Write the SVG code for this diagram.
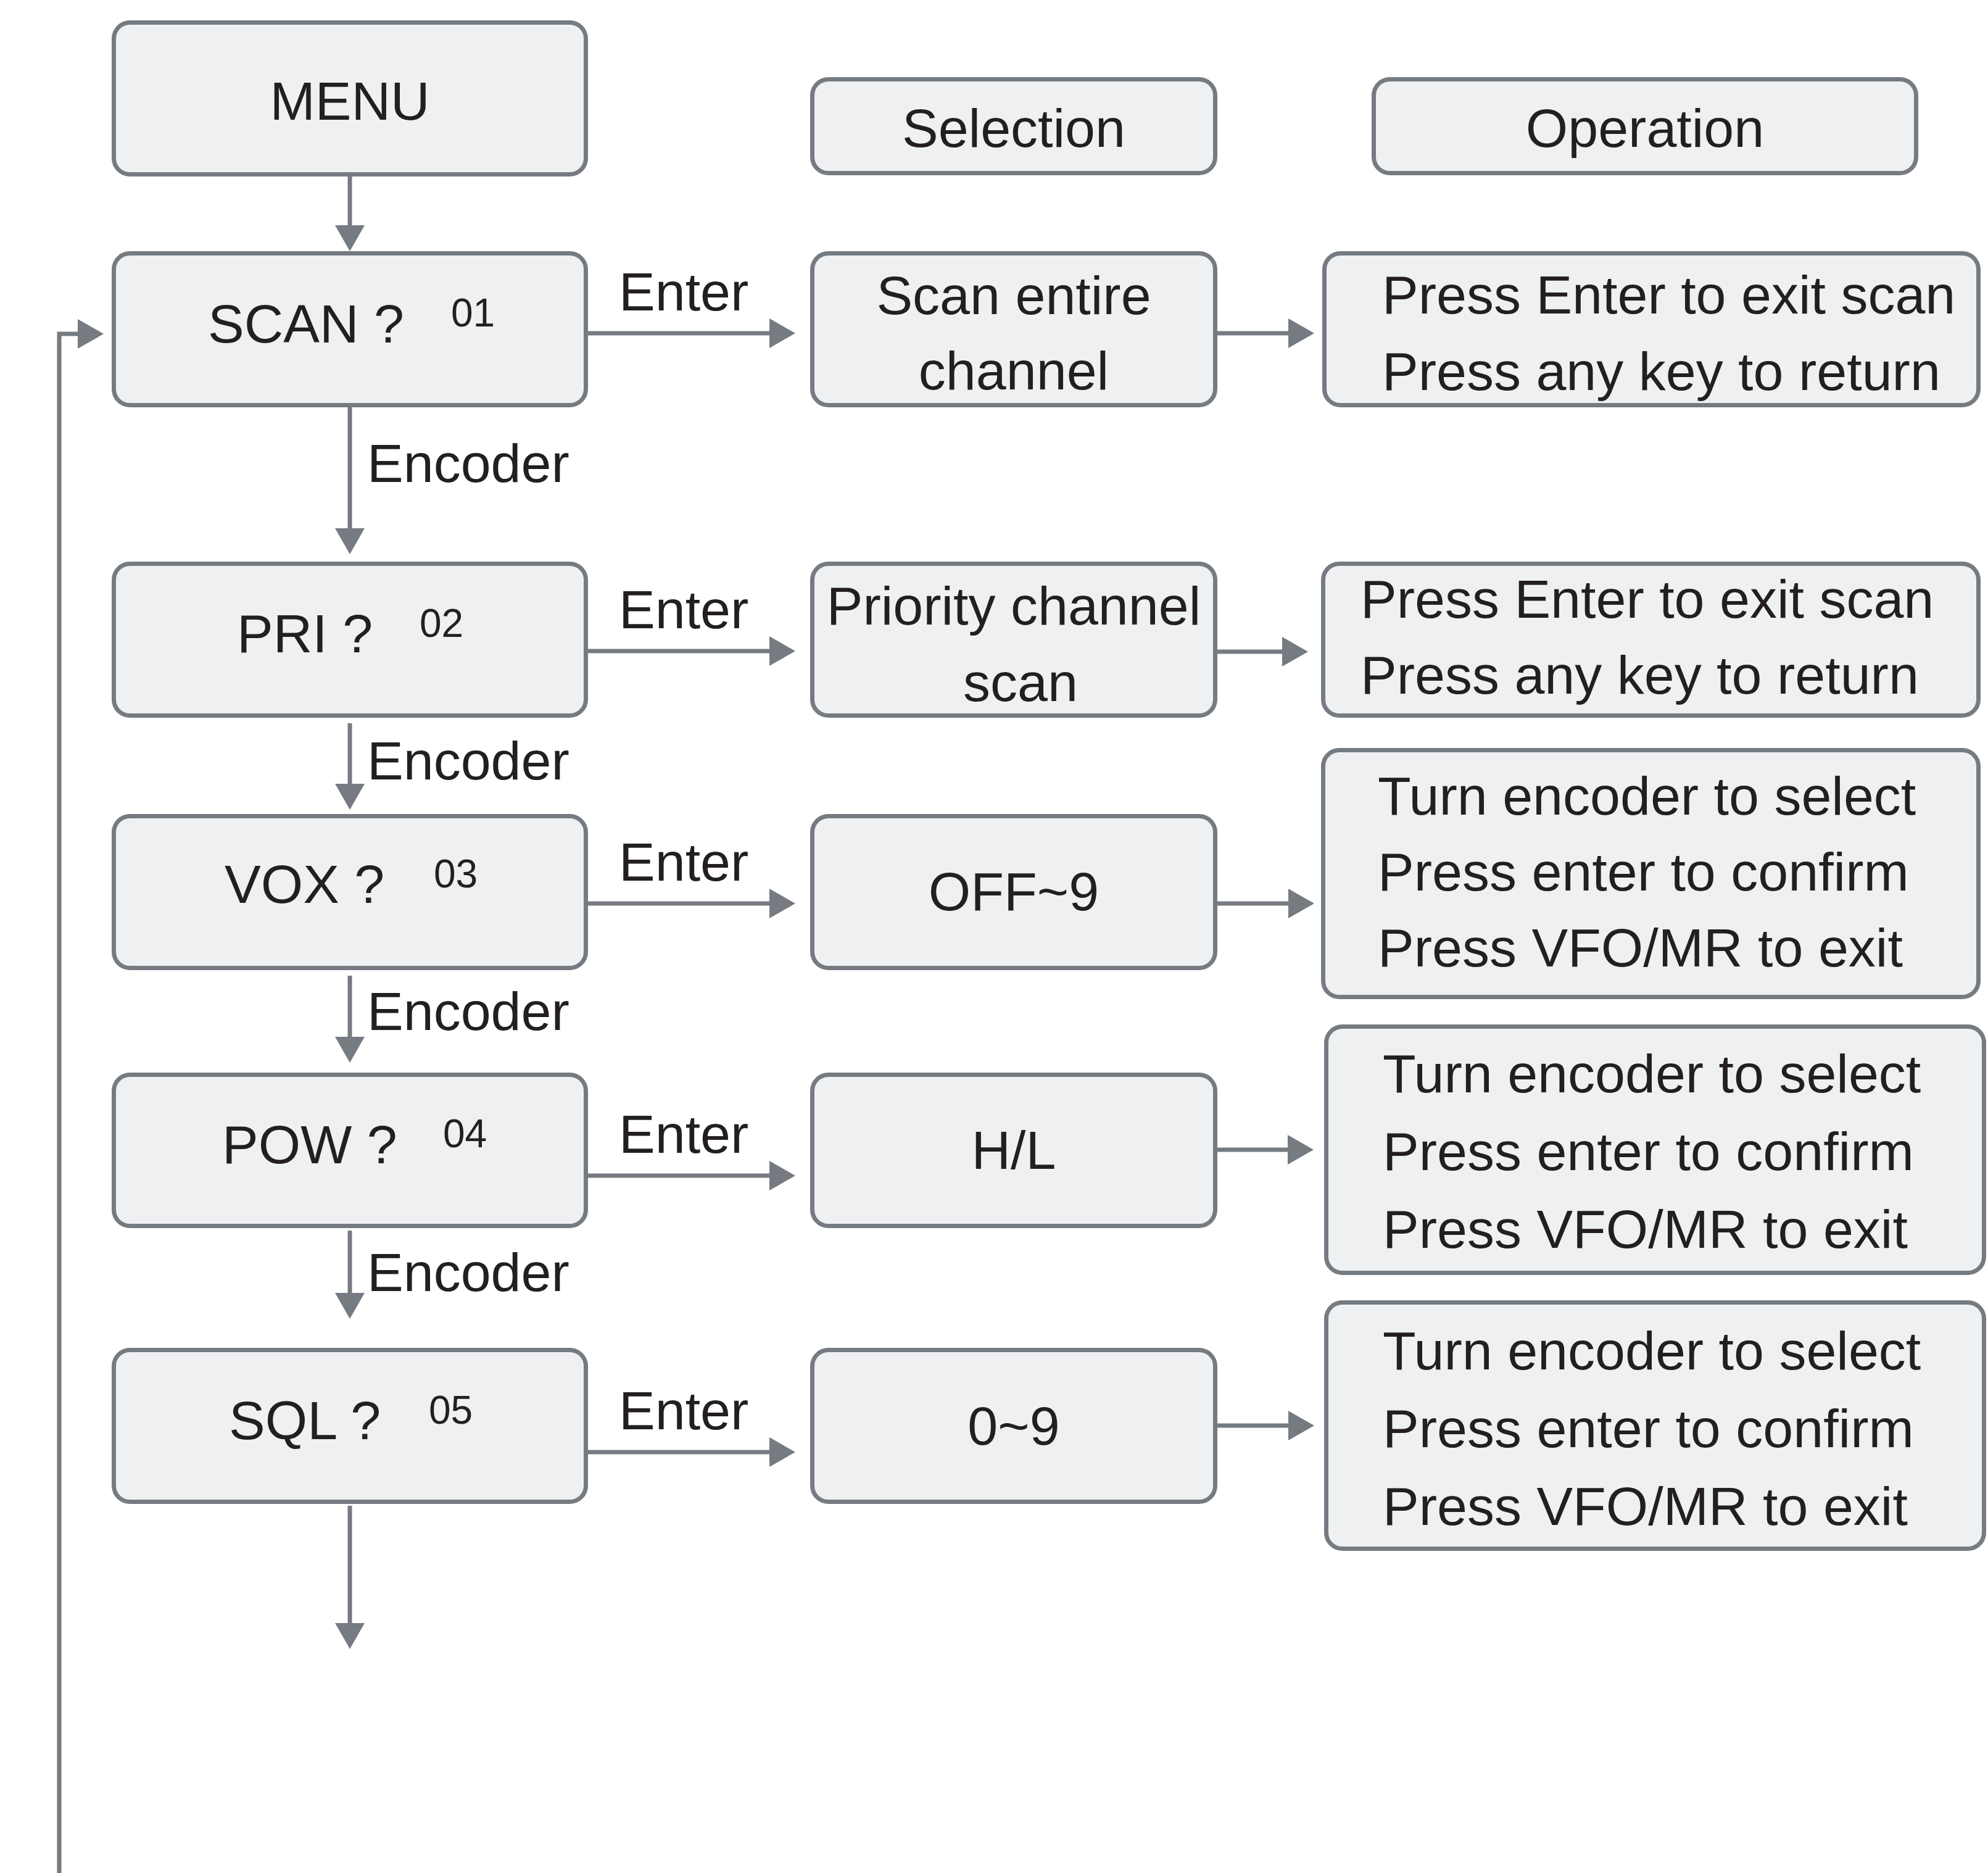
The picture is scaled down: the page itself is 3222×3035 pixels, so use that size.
<svg xmlns="http://www.w3.org/2000/svg" width="3222" height="3035" viewBox="0 0 3222 3035">
<defs>
<style>
.box{fill:#eff0f2;stroke:#757b81;stroke-width:7}
.t{font-family:"Liberation Sans",Arial,sans-serif;font-size:88px;fill:#231f20}
.c{text-anchor:middle}
.n{font-family:"Liberation Sans",Arial,sans-serif;font-size:64px;fill:#231f20}
.ln{fill:none;stroke:#757b81;stroke-width:7}
</style>
<marker id="ah" markerUnits="userSpaceOnUse" markerWidth="44" markerHeight="48" refX="2" refY="24" orient="auto">
<path d="M0,0 L42,24 L0,48 Z" fill="#757b81"/>
</marker>
</defs>
<rect width="3222" height="3035" fill="#ffffff"/>

<g id="connectors">
<line class="ln" x1="567" y1="286" x2="567" y2="367" marker-end="url(#ah)"/>
<line class="ln" x1="567" y1="660" x2="567" y2="858" marker-end="url(#ah)"/>
<line class="ln" x1="567" y1="1172" x2="567" y2="1272" marker-end="url(#ah)"/>
<line class="ln" x1="567" y1="1581" x2="567" y2="1682" marker-end="url(#ah)"/>
<line class="ln" x1="567" y1="1994" x2="567" y2="2097" marker-end="url(#ah)"/>
<line class="ln" x1="567" y1="2440" x2="567" y2="2632" marker-end="url(#ah)"/>

<line class="ln" x1="953" y1="540" x2="1249" y2="540" marker-end="url(#ah)"/>
<line class="ln" x1="953" y1="1055" x2="1249" y2="1055" marker-end="url(#ah)"/>
<line class="ln" x1="953" y1="1464" x2="1249" y2="1464" marker-end="url(#ah)"/>
<line class="ln" x1="953" y1="1905" x2="1249" y2="1905" marker-end="url(#ah)"/>
<line class="ln" x1="953" y1="2353" x2="1249" y2="2353" marker-end="url(#ah)"/>

<line class="ln" x1="1973" y1="540" x2="2090" y2="540" marker-end="url(#ah)"/>
<line class="ln" x1="1973" y1="1056" x2="2080" y2="1056" marker-end="url(#ah)"/>
<line class="ln" x1="1973" y1="1464" x2="2090" y2="1464" marker-end="url(#ah)"/>
<line class="ln" x1="1973" y1="1863" x2="2089" y2="1863" marker-end="url(#ah)"/>
<line class="ln" x1="1973" y1="2310" x2="2090" y2="2310" marker-end="url(#ah)"/>

<path class="ln" d="M96,3035 V541 H128" marker-end="url(#ah)"/>

<text class="t" x="1003" y="503">Enter</text>
<text class="t" x="1003" y="1018">Enter</text>
<text class="t" x="1003" y="1427">Enter</text>
<text class="t" x="1003" y="1868">Enter</text>
<text class="t" x="1003" y="2316">Enter</text>

<text class="t" x="595" y="781">Encoder</text>
<text class="t" x="595" y="1263">Encoder</text>
<text class="t" x="595" y="1669">Encoder</text>
<text class="t" x="595" y="2092">Encoder</text>
</g>

<g id="menu">
<rect class="box" x="184.5" y="36.5" width="765" height="246" rx="26"/>
<text class="t c" x="567" y="194">MENU</text>
</g>
<g id="selection-header">
<rect class="box" x="1316.5" y="128.5" width="653" height="152" rx="26"/>
<text class="t c" x="1643" y="238">Selection</text>
</g>
<g id="operation-header">
<rect class="box" x="2226.5" y="128.5" width="879" height="152" rx="26"/>
<text class="t c" x="2666" y="238">Operation</text>
</g>

<g id="scan">
<rect class="box" x="184.5" y="410.5" width="765" height="246" rx="26"/>
<text class="t" x="337" y="555">SCAN ?</text>
<text class="n" x="731" y="529">01</text>
</g>
<g id="scan-sel">
<rect class="box" x="1316.5" y="410.5" width="653" height="246" rx="26"/>
<text class="t c" x="1643" y="509">Scan entire</text>
<text class="t c" x="1643" y="631">channel</text>
</g>
<g id="scan-op">
<rect class="box" x="2146.5" y="410.5" width="1060" height="246" rx="26"/>
<text class="t" x="2240" y="508">Press Enter to exit scan</text>
<text class="t" x="2240" y="632">Press any key to return</text>
</g>

<g id="pri">
<rect class="box" x="184.5" y="913.5" width="765" height="246" rx="26"/>
<text class="t" x="384" y="1057">PRI ?</text>
<text class="n" x="680" y="1032">02</text>
</g>
<g id="pri-sel">
<rect class="box" x="1316.5" y="913.5" width="653" height="246" rx="26"/>
<text class="t c" x="1643" y="1012">Priority channel</text>
<text class="t c" x="1654" y="1136">scan</text>
</g>
<g id="pri-op">
<rect class="box" x="2144.5" y="913.5" width="1062" height="246" rx="26"/>
<text class="t" x="2205" y="1001">Press Enter to exit scan</text>
<text class="t" x="2205" y="1124">Press any key to return</text>
</g>

<g id="vox">
<rect class="box" x="184.5" y="1322.5" width="765" height="246" rx="26"/>
<text class="t" x="364" y="1463">VOX ?</text>
<text class="n" x="703" y="1438">03</text>
</g>
<g id="vox-sel">
<rect class="box" x="1316.5" y="1322.5" width="653" height="246" rx="26"/>
<text class="t c" x="1643" y="1475">OFF~9</text>
</g>
<g id="vox-op">
<rect class="box" x="2144.5" y="1215.5" width="1062" height="400" rx="26"/>
<text class="t" x="2233" y="1320">Turn encoder to select</text>
<text class="t" x="2233" y="1443">Press enter to confirm</text>
<text class="t" x="2233" y="1566">Press VFO/MR to exit</text>
</g>

<g id="pow">
<rect class="box" x="184.5" y="1741.5" width="765" height="245" rx="26"/>
<text class="t" x="360" y="1885">POW ?</text>
<text class="n" x="718" y="1859">04</text>
</g>
<g id="pow-sel">
<rect class="box" x="1316.5" y="1741.5" width="653" height="245" rx="26"/>
<text class="t c" x="1643" y="1894">H/L</text>
</g>
<g id="pow-op">
<rect class="box" x="2149.5" y="1663.5" width="1066" height="399" rx="26"/>
<text class="t" x="2241" y="1770">Turn encoder to select</text>
<text class="t" x="2241" y="1896">Press enter to confirm</text>
<text class="t" x="2241" y="2022">Press VFO/MR to exit</text>
</g>

<g id="sql">
<rect class="box" x="184.5" y="2187.5" width="765" height="246" rx="26"/>
<text class="t" x="371" y="2332">SQL ?</text>
<text class="n" x="695" y="2307">05</text>
</g>
<g id="sql-sel">
<rect class="box" x="1316.5" y="2187.5" width="653" height="246" rx="26"/>
<text class="t c" x="1643" y="2341">0~9</text>
</g>
<g id="sql-op">
<rect class="box" x="2149.5" y="2110.5" width="1066" height="399" rx="26"/>
<text class="t" x="2241" y="2219">Turn encoder to select</text>
<text class="t" x="2241" y="2345">Press enter to confirm</text>
<text class="t" x="2241" y="2471">Press VFO/MR to exit</text>
</g>
</svg>
